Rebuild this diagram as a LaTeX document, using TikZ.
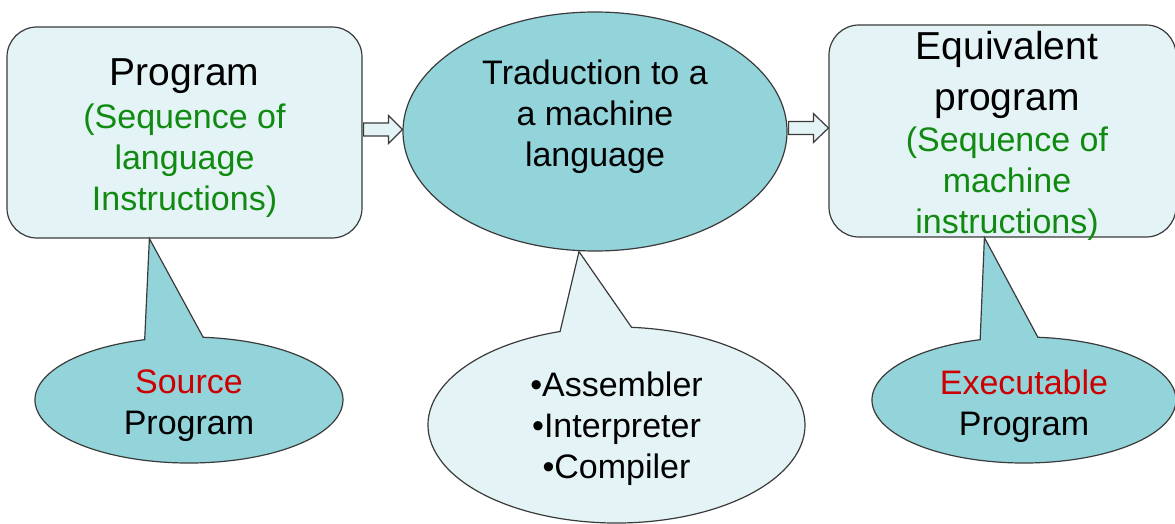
\documentclass[tikz,border=0pt]{standalone}
\usepackage{fontspec}
\setmainfont{Liberation Sans}
\usetikzlibrary{shapes.geometric,shapes.callouts,calc}
\definecolor{paleteal}{HTML}{E4F4F6}
\definecolor{deepteal}{HTML}{93D4DB}
\definecolor{edgegray}{HTML}{3A3A3A}
\definecolor{txtgreen}{HTML}{108A10}
\definecolor{txtred}{HTML}{CC0000}
\begin{document}
\begin{tikzpicture}[x=1pt,y=-1pt,
  bodyfont/.style={font=\fontsize{34}{41}\selectfont},
  txt/.style={bodyfont, align=center, inner sep=0pt},
  box/.style={draw=edgegray, line width=1.2pt, fill=paleteal, rounded corners=30pt,
    inner sep=0pt},
  bubble/.style={ellipse callout, draw=edgegray, line width=1.2pt, inner sep=0pt,
    callout pointer arc=22},
  blockarrow/.style={draw=edgegray, fill=paleteal, line width=1.2pt, line join=miter}
]
\useasboundingbox (0,0) rectangle (1175,524);

% program boxes
\node[box, minimum width=355pt, minimum height=211pt] (prog) at (184.5,132.5) {};
\node[box, minimum width=347pt, minimum height=212pt] (equiv) at (1002.5,131) {};

% translation step
\node[ellipse, draw=edgegray, line width=1.2pt, fill=deepteal,
  minimum width=384pt, minimum height=239pt] (trad) at (595,131.5) {};

% block arrows between the stages
\draw[blockarrow] let \p1=([yshift=3pt]prog.east), \p2=([yshift=3pt]trad.west) in
  (\x1+1pt,\y1+6.5pt) -- (\x2-14pt,\y1+6.5pt) -- (\x2-14pt,\y1+14pt) -- (\x2,\y1)
  -- (\x2-14pt,\y1-14pt) -- (\x2-14pt,\y1-6.5pt) -- (\x1+1pt,\y1-6.5pt) -- cycle;
\draw[blockarrow] let \p1=([yshift=3.5pt]trad.east), \p2=([yshift=3.5pt]equiv.west) in
  (\x1+1pt,\y1+6.5pt) -- (\x2-15pt,\y1+6.5pt) -- (\x2-15pt,\y1+14.5pt) -- (\x2,\y1)
  -- (\x2-15pt,\y1-14.5pt) -- (\x2-15pt,\y1-6.5pt) -- (\x1+1pt,\y1-6.5pt) -- cycle;

% callouts
\coordinate (srctip) at ($(prog.south west)+(143,0)$);
\coordinate (tradtip) at ($(trad.south)+(-16,0)$);
\coordinate (exetip) at ($(equiv.south west)+(156,0)$);

\node[bubble, fill=deepteal, minimum width=308pt, minimum height=126pt,
  callout absolute pointer={(srctip)}] (src) at (189,400) {};
\node[bubble, fill=paleteal, minimum width=377pt, minimum height=196pt,
  callout absolute pointer={(tradtip)}] (kinds) at (616.5,425) {};
\node[bubble, fill=deepteal, minimum width=304pt, minimum height=126pt,
  callout absolute pointer={(exetip)}] (exe) at (1024,400) {};

% texts
\node[txt] (progtext) at ($(prog.center)+(0,6)$)
  {{\fontsize{39}{41}\selectfont Program}\\[2pt]
   \textcolor{txtgreen}{(Sequence of}\\
   \textcolor{txtgreen}{language}\\
   \textcolor{txtgreen}{Instructions)}};
\node[txt] (equivtext) at ($(equiv.center)+(4.5,5)$)
  {{\fontsize{39}{47}\selectfont Equivalent}\\[10pt]
   {\fontsize{39}{41}\selectfont program}\\
   \textcolor{txtgreen}{(Sequence of}\\
   \textcolor{txtgreen}{machine}\\
   \textcolor{txtgreen}{instructions)}};
\node[txt] (tradtext) at ($(trad.center)+(0,-14.5)$)
  {Traduction to a\\a machine\\language};
\node[txt] (srctext) at ($(src.center)+(0,6)$)
  {\textcolor{txtred}{Source}\\Program};
\node[txt] (kindstext) at ($(kinds.center)+(0,4)$)
  {•Assembler\\•Interpreter\\•Compiler};
\node[txt] (exetext) at ($(exe.center)+(0,6)$)
  {\textcolor{txtred}{Executable}\\Program};
\end{tikzpicture}
\end{document}
